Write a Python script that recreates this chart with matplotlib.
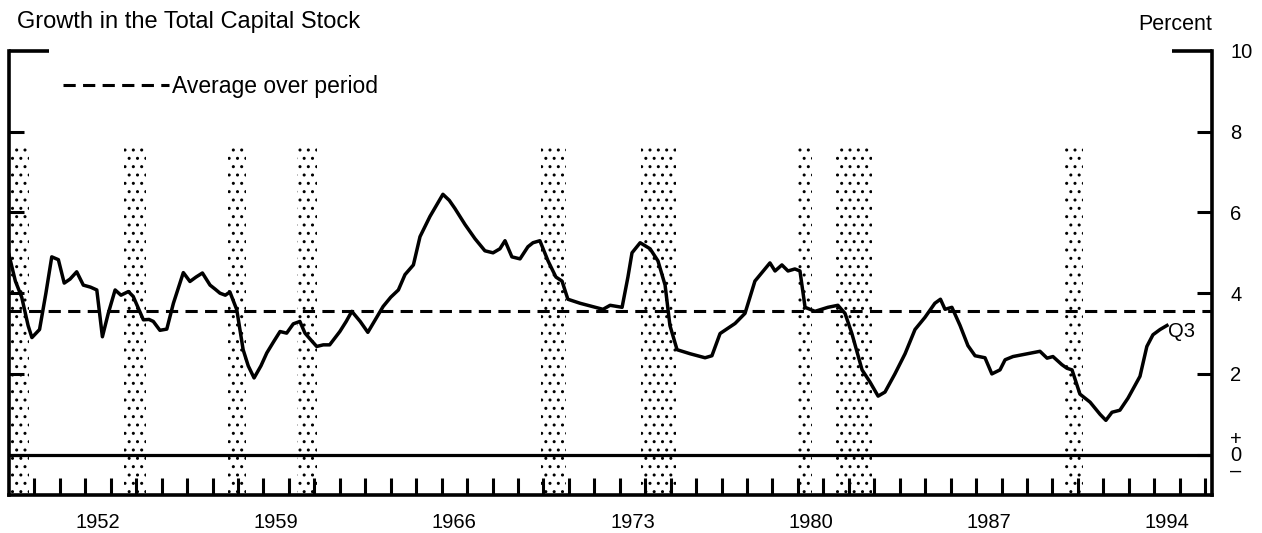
import matplotlib
matplotlib.use("Agg")
import matplotlib.pyplot as plt
from matplotlib.lines import Line2D
from matplotlib.ticker import FixedLocator, FixedFormatter, NullFormatter

plt.rcParams["font.family"] = ["Liberation Sans", "DejaVu Sans"]
plt.rcParams["hatch.linewidth"] = 1.0

# ── Data ───────────────────────────────────────────────────────────────────────
TITLE = "Growth in the Total Capital Stock"
AVERAGE = 3.55          # average over period, percent
SHADE_TOP = 7.6         # height of the recession bars

dates = [
    1949.00, 1949.25, 1949.50, 1949.75, 1949.90, 1950.20, 1950.45, 1950.68, 1950.94,
    1951.17, 1951.40, 1951.66, 1951.92, 1952.20, 1952.45, 1952.67, 1952.90, 1953.17,
    1953.40, 1953.69, 1953.88, 1954.10, 1954.28, 1954.50, 1954.67, 1954.93, 1955.20,
    1955.46, 1955.85, 1956.11, 1956.35, 1956.60, 1956.90, 1957.10, 1957.29, 1957.50,
    1957.68, 1957.95, 1958.20, 1958.40, 1958.63, 1958.90, 1959.13, 1959.40, 1959.65,
    1959.91, 1960.17, 1960.43, 1960.63, 1960.85, 1961.09, 1961.35, 1961.60, 1962.00,
    1962.25, 1962.47, 1962.80, 1963.10, 1963.40, 1963.70, 1964.00, 1964.30, 1964.56,
    1964.89, 1965.15, 1965.54, 1965.82, 1966.05, 1966.30, 1966.52, 1966.92, 1967.31,
    1967.70, 1968.02, 1968.29, 1968.49, 1968.76, 1969.08, 1969.39, 1969.59, 1969.86,
    1970.18, 1970.49, 1970.73, 1970.96, 1971.44, 1972.03, 1972.34, 1972.62, 1973.09,
    1973.32, 1973.48, 1973.80, 1974.19, 1974.50, 1974.78, 1974.97, 1975.25, 1975.76,
    1976.35, 1976.62, 1976.94, 1977.53, 1977.92, 1978.31, 1978.90, 1979.10, 1979.37,
    1979.61, 1979.88, 1980.08, 1980.28, 1980.67, 1981.18, 1981.57, 1981.85, 1982.12,
    1982.52, 1982.83, 1983.15, 1983.42, 1983.81, 1984.21, 1984.60, 1984.99, 1985.38,
    1985.60, 1985.78, 1986.05, 1986.37, 1986.68, 1986.96, 1987.35, 1987.62, 1987.94,
    1988.14, 1988.45, 1989.20, 1989.51, 1989.79, 1990.02, 1990.37, 1990.57, 1990.77,
    1991.08, 1991.48, 1991.87, 1992.10, 1992.34, 1992.65, 1992.97, 1993.44, 1993.71,
    1993.95, 1994.23, 1994.50,
]
growth = [
    4.95, 4.30, 3.90, 3.20, 2.90, 3.10, 4.00, 4.90, 4.83,
    4.25, 4.35, 4.53, 4.20, 4.15, 4.08, 2.92, 3.50, 4.08,
    3.95, 4.04, 3.92, 3.60, 3.34, 3.35, 3.30, 3.08, 3.11,
    3.75, 4.51, 4.29, 4.40, 4.50, 4.20, 4.10, 4.00, 3.95,
    4.03, 3.59, 2.60, 2.20, 1.90, 2.20, 2.52, 2.80, 3.05,
    3.01, 3.24, 3.30, 3.01, 2.85, 2.68, 2.72, 2.72, 3.05,
    3.30, 3.55, 3.30, 3.03, 3.35, 3.67, 3.90, 4.08, 4.46,
    4.70, 5.40, 5.90, 6.20, 6.45, 6.30, 6.10, 5.70, 5.35,
    5.05, 5.00, 5.10, 5.30, 4.90, 4.85, 5.15, 5.25, 5.30,
    4.80, 4.40, 4.30, 3.85, 3.75, 3.65, 3.60, 3.70, 3.65,
    4.40, 5.00, 5.25, 5.10, 4.80, 4.20, 3.20, 2.60, 2.50,
    2.40, 2.45, 3.00, 3.25, 3.50, 4.30, 4.75, 4.55, 4.70,
    4.55, 4.60, 4.55, 3.65, 3.55, 3.65, 3.70, 3.50, 3.00,
    2.10, 1.80, 1.45, 1.55, 2.00, 2.50, 3.10, 3.40, 3.75,
    3.85, 3.60, 3.65, 3.20, 2.70, 2.45, 2.40, 2.00, 2.10,
    2.35, 2.43, 2.52, 2.56, 2.39, 2.43, 2.23, 2.14, 2.10,
    1.50, 1.30, 1.00, 0.85, 1.05, 1.10, 1.40, 1.94, 2.68,
    2.97, 3.10, 3.20,
]

# recessions (shaded)
rec_start = [1948.83, 1953.50, 1957.60, 1960.30, 1969.90, 1973.85, 1980.00, 1981.50, 1990.50]
rec_end   = [1949.80, 1954.40, 1958.30, 1961.10, 1970.90, 1975.20, 1980.55, 1982.90, 1991.20]

year_ticks  = list(range(1950, 1997))
label_years = [1952, 1959, 1966, 1973, 1980, 1987, 1994]
y_ticks     = [0, 2, 4, 6, 8]
y_labels    = ["+\n0\n\u2013", "2", "4", "6", "8"]

# ── Figure ─────────────────────────────────────────────────────────────────────
fig = plt.figure(figsize=(12.62, 5.33), dpi=100)
ax = fig.add_axes([9 / 1262, 38 / 533, 1203 / 1262, 444 / 533])

widths = [e - s for s, e in zip(rec_start, rec_end)]
ax.bar(rec_start, SHADE_TOP + 1, bottom=-1, width=widths, align="edge",
       color="white", edgecolor="black", hatch="..", linewidth=0, zorder=1)

ax.axhline(0, color="black", lw=2.3, zorder=3)
ax.axhline(AVERAGE, color="black", lw=2.2, ls=(0, (4, 2.4)), zorder=3)
ax.plot(dates, growth, color="black", lw=2.5, solid_joinstyle="round", zorder=4)

ax.annotate("Q3", (dates[-1], growth[-1]), xytext=(1, -4), textcoords="offset points",
            ha="left", va="center", fontsize=14.5)

ax.set_xlim(1949, 1996.27)
ax.set_ylim(-1, 10)

# spines
ax.spines["top"].set_visible(False)
for s in ("left", "right", "bottom"):
    ax.spines[s].set_linewidth(2.6)

# x ticks: year marks inside, labels centred within the year
ax.xaxis.set_major_locator(FixedLocator(year_ticks))
ax.xaxis.set_major_formatter(NullFormatter())
ax.xaxis.set_minor_locator(FixedLocator([y + 0.5 for y in label_years]))
ax.xaxis.set_minor_formatter(FixedFormatter([str(y) for y in label_years]))
ax.tick_params(axis="x", which="major", direction="in", length=12, width=2.2)
ax.tick_params(axis="x", which="minor", length=0, pad=13, labelsize=14.5)

# y ticks: both sides inside, labels on the right, long mark at 10
ax.yaxis.set_major_locator(FixedLocator(y_ticks))
ax.yaxis.set_major_formatter(FixedFormatter(y_labels))
ax.yaxis.set_minor_locator(FixedLocator([10]))
ax.yaxis.set_minor_formatter(FixedFormatter(["10"]))
ax.tick_params(axis="y", which="both", direction="in", left=True, right=True,
               labelleft=False, labelright=True, labelsize=14.5, pad=13)
ax.tick_params(axis="y", which="major", length=11, width=2.2)
ax.tick_params(axis="y", which="minor", length=29, width=2.6)
for lab in ax.yaxis.get_majorticklabels():
    lab.set_linespacing(0.8)

ax.legend(handles=[Line2D([], [], color="black", lw=2.2, ls=(0, (4, 2.4)))],
          labels=["Average over period"], loc="center left",
          bbox_to_anchor=(0.045, 0.919), frameon=False, fontsize=16.5,
          handlelength=4.6, handletextpad=0.15, borderpad=0, borderaxespad=0)

fig.text(17 / 1262, 1 - 28 / 533, TITLE, fontsize=17, va="baseline", ha="left")
fig.text(1212 / 1262, 1 - 30 / 533, "Percent", fontsize=15.5, va="baseline", ha="right")

fig.savefig("out.png", dpi=100)
